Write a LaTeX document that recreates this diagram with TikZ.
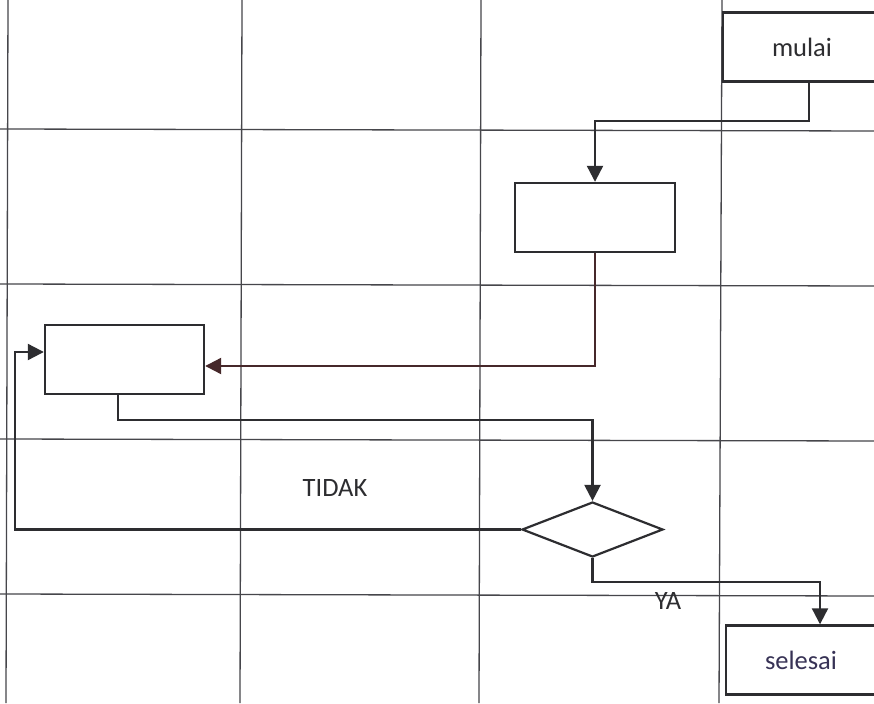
\documentclass[tikz,border=0pt]{standalone}
\usepackage{fontspec}
\setmainfont{Carlito}
\usetikzlibrary{arrows.meta,shapes.geometric}
\definecolor{ink}{RGB}{45,45,48}
\definecolor{gridc}{RGB}{70,70,75}
\definecolor{brownink}{RGB}{70,40,42}
\definecolor{blueink}{RGB}{55,50,85}
\begin{document}
\begin{tikzpicture}[x=1pt,y=-1pt,
  box/.style={draw=ink, line width=2.4pt, minimum width=158pt, minimum height=69pt, inner sep=0pt, font=\fontsize{26.5}{30}\selectfont, text=ink},
  dia/.style={draw=ink, line width=2.2pt, shape=diamond, minimum width=141pt, minimum height=55pt, inner sep=0pt},
  gridline/.style={draw=gridc, line width=1.3pt},
  conn/.style={draw=ink, line width=2.2pt},
  arr/.style={conn, -{Triangle[length=16pt,width=16pt]}},
  lbl/.style={font=\fontsize{26.5}{30}\selectfont, text=ink, inner sep=0pt}]
\fill[white] (0,0) rectangle (874,703);
\useasboundingbox (0,0) rectangle (874,703);
% grid
\foreach \xa/\xb in {8/6, 242/240, 481/479, 722/719}
  \draw[gridline] (\xa,0) -- (\xb,703);
\foreach \ya/\yb in {129/131, 284/286, 439/441, 594/596}
  \draw[gridline] (0,\ya) -- (874,\yb);
% nodes
\node[box] (mulai) at (802,47) {mulai};
\node[box, minimum width=160pt] (b2) at (595,217.5) {};
\node[box, minimum width=159pt] (b3) at (124.5,359.5) {};
\node[dia] (d) at (592.5,529.5) {};
\node[box, minimum width=150pt, text=blueink] (sel) at (801,660) {selesai};
\node[lbl] (tidak) at (335,488) {TIDAK};
\node[lbl] (ya) at (668,601) {YA};
% connectors
\coordinate (c1) at (809,121);
\draw[arr] (mulai.south -| c1) -- (c1) -| (b2.north);
\coordinate (c2) at (0,366);
\draw[arr, draw=brownink] (b2.south) |- (b3.east |- c2);
\coordinate (c3) at (118,420);
\draw[arr] (b3.south -| c3) -- (c3) -| (d.north);
\coordinate (c4) at (15,352);
\draw[arr] (d.west) -| (c4) -- (b3.west |- c4);
\coordinate (c5) at (820,582);
\draw[arr] (d.south) |- (c5) -- (sel.north -| c5);
\end{tikzpicture}
\end{document}
